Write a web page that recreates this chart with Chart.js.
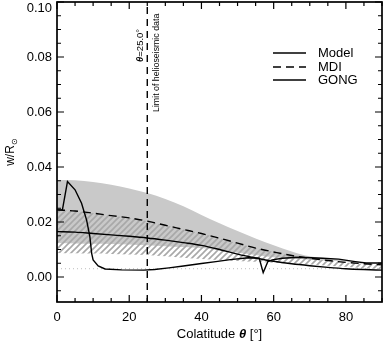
<!DOCTYPE html>
<html>
<head>
<meta charset="utf-8">
<script src="https://cdn.jsdelivr.net/npm/chart.js@4/dist/chart.umd.min.js"></script>
<style>
html,body{margin:0;padding:0;background:#fff;}
canvas{display:block;}
</style>
</head>
<body>
<canvas id="c" width="383" height="341"></canvas>
<script>
// ---------- data ----------
const thetaGrid = [0,5,10,15,20,25,30,35,40,45,50,55,60,65,70,75,80,85,90];
const modelValues = [0.0165,0.0163,0.0158,0.0153,0.0148,0.0142,0.0134,0.0125,0.0115,0.0100,0.0083,0.0069,0.0057,0.0048,0.0041,0.0035,0.0030,0.0027,0.0025];
const mdiValues   = [0.0244,0.0240,0.0232,0.0223,0.0215,0.0203,0.0188,0.0173,0.0158,0.0141,0.0123,0.0105,0.0091,0.0078,0.0068,0.0060,0.0053,0.0048,0.0044];
const gongTheta  = [0,1.5,2.9,5,6.8,8.2,9.1,9.6,10,11.4,13.3,17.9,24,27,31,35,40,44,48,53,56,57.1,58.4,59.6,62.4,67,73.5,78,82.6,85.6,90];
const gongValues = [0.0244,0.0244,0.0347,0.0317,0.0268,0.0207,0.0147,0.0086,0.0062,0.0040,0.0029,0.0026,0.0025,0.0027,0.0033,0.0040,0.0049,0.0056,0.0063,0.0070,0.0068,0.0016,0.0056,0.0062,0.0068,0.0072,0.0068,0.0065,0.0056,0.0051,0.0051];
const grayUpper  = [0.0353,0.0352,0.0345,0.0335,0.0322,0.0305,0.0284,0.0257,0.0225,0.0195,0.0167,0.0140,0.0115,0.0093,0.0075,0.0068,0.0060,0.0053,0.0048];
const grayLower  = [0.0124,0.0122,0.0121,0.0120,0.0118,0.0115,0.0112,0.0109,0.0105,0.0097,0.0088,0.0080,0.0072,0.0067,0.0063,0.0060,0.0056,0.0052,0.0048];
const hatchUpper = [0.0244,0.0240,0.0232,0.0223,0.0215,0.0203,0.0188,0.0173,0.0158,0.0141,0.0123,0.0105,0.0091,0.0078,0.0068,0.0060,0.0053,0.0048,0.0044];
const hatchLower = [0.0087,0.0086,0.0085,0.0084,0.0082,0.0080,0.0075,0.0070,0.0065,0.0061,0.0058,0.0055,0.0052,0.0048,0.0045,0.0041,0.0037,0.0032,0.0028];
const referenceLevel = 0.003;
const limitTheta = 25;
const xTickValues = [0,20,40,60,80];
const xTickLabels = ['0','20','40','60','80'];
const yTickValues = [0,0.02,0.04,0.06,0.08,0.10];
const yTickLabels = ['0.00','0.02','0.04','0.06','0.08','0.10'];
const legendLabels = ['Model','MDI','GONG'];

// ---------- helpers ----------
const pts = (xs, ys) => xs.map((v,i)=>({x:v, y:ys[i]}));

const pc = document.createElement('canvas');
pc.width = 6; pc.height = 6;
const pctx = pc.getContext('2d');
pctx.strokeStyle = '#a8a8a8';
pctx.lineWidth = 1.6;
pctx.beginPath();
pctx.moveTo(-1,7); pctx.lineTo(7,-1);
pctx.moveTo(-4,4); pctx.lineTo(4,-4);
pctx.moveTo(2,10); pctx.lineTo(10,2);
pctx.stroke();
const hatch = pctx.createPattern(pc,'repeat');

const FONT = '"Liberation Sans", Arial, Helvetica, sans-serif';
const TOP_LABEL = yTickLabels[yTickLabels.length-1];

const framePlugin = {
  id:'frame',
  afterDatasetsDraw(chart){
    const {ctx, chartArea:{top,bottom}, scales:{x}} = chart;
    const px = x.getPixelForValue(limitTheta);
    ctx.save();
    ctx.strokeStyle = '#000'; ctx.lineWidth = 1.4;
    ctx.setLineDash([7,5]);
    ctx.beginPath(); ctx.moveTo(px,bottom); ctx.lineTo(px,top); ctx.stroke();
    ctx.restore();
  },
  afterDraw(chart){
    const {ctx, chartArea:{left,right,top,bottom}, scales:{x,y}} = chart;
    ctx.save();
    ctx.strokeStyle = '#000'; ctx.lineWidth = 1.7;
    ctx.strokeRect(left,top,right-left,bottom-top);
    ctx.lineWidth = 1.2;
    ctx.beginPath();
    for (let v=0; v<=90; v+=5){
      const p = x.getPixelForValue(v);
      const L = (v%20===0) ? 7 : 4;
      ctx.moveTo(p,bottom); ctx.lineTo(p,bottom-L);
      ctx.moveTo(p,top); ctx.lineTo(p,top+L);
    }
    for (let k=-1; k<=20; k++){
      const v = k*0.005;
      const p = y.getPixelForValue(v);
      const L = (k%4===0) ? 7 : 4;
      ctx.moveTo(left,p); ctx.lineTo(left+L,p);
      ctx.moveTo(right,p); ctx.lineTo(right-L,p);
    }
    ctx.stroke();

    // top y tick label (kept inside the canvas as in the reference)
    ctx.fillStyle = '#000';
    ctx.font = '13px ' + FONT;
    ctx.textAlign = 'right';
    ctx.textBaseline = 'top';
    ctx.fillText(TOP_LABEL, left-5, top);

    // legend
    ctx.textBaseline = 'middle';
    ctx.textAlign = 'left';
    const ly = [53,67,80];
    legendLabels.forEach((lab,i)=>{
      ctx.lineWidth = 1.4;
      ctx.setLineDash(i===1 ? [8,5] : []);
      ctx.beginPath(); ctx.moveTo(273,ly[i]); ctx.lineTo(306,ly[i]); ctx.stroke();
      ctx.setLineDash([]);
      ctx.fillText(lab, 318, ly[i]);
    });

    // annotations (rotated)
    const lx = x.getPixelForValue(limitTheta);
    ctx.save();
    ctx.translate(lx-4, 62);
    ctx.rotate(-Math.PI/2);
    ctx.textBaseline = 'alphabetic';
    ctx.font = 'bold italic 9.5px ' + FONT;
    ctx.fillText('θ', 0, 0);
    let w = ctx.measureText('θ').width;
    ctx.font = '9.5px ' + FONT;
    ctx.fillText('=25.0°', w, 0);
    ctx.restore();

    ctx.save();
    ctx.translate(lx+12, 112);
    ctx.rotate(-Math.PI/2);
    ctx.textBaseline = 'alphabetic';
    ctx.font = '8.8px ' + FONT;
    ctx.fillText('Limit of helioseismic data', 0, 0);
    ctx.restore();

    // x title
    const cx = (left+right)/2;
    ctx.textBaseline = 'middle';
    const t1 = 'Colatitude ', t3 = ' [°]';
    ctx.font = '13px ' + FONT; const w1 = ctx.measureText(t1).width, w3 = ctx.measureText(t3).width;
    ctx.font = 'bold italic 13px ' + FONT; const w2 = ctx.measureText('θ').width;
    let sx = cx - (w1+w2+w3)/2;
    ctx.font = '13px ' + FONT; ctx.fillText(t1, sx, 334);
    ctx.font = 'bold italic 13px ' + FONT; ctx.fillText('θ', sx+w1, 334);
    ctx.font = '13px ' + FONT; ctx.fillText(t3, sx+w1+w2, 334);

    // y title
    ctx.save();
    ctx.translate(14, (top+bottom)/2);
    ctx.rotate(-Math.PI/2);
    ctx.textBaseline = 'alphabetic';
    ctx.font = '12px ' + FONT;
    const yw = ctx.measureText('w/R').width;
    ctx.font = '8px ' + FONT;
    const sw = ctx.measureText('⊙').width;
    const y0 = -(yw+sw)/2;
    ctx.font = '12px ' + FONT;
    ctx.fillText('w/R', y0, 0);
    ctx.font = '8px ' + FONT;
    ctx.fillText('⊙', y0+yw, 3);
    ctx.restore();

    ctx.restore();
  }
};

const lineBase = {pointRadius:0, borderColor:'#000', borderWidth:1.4, fill:false};

new Chart(document.getElementById('c'), {
  type:'line',
  data:{
    datasets:[
      Object.assign({}, lineBase, {label:'GONG', data:pts(gongTheta,gongValues), tension:0}),
      Object.assign({}, lineBase, {label:'Model', data:pts(thetaGrid,modelValues), cubicInterpolationMode:'monotone'}),
      Object.assign({}, lineBase, {label:'MDI', data:pts(thetaGrid,mdiValues), borderDash:[8,5], cubicInterpolationMode:'monotone'}),
      Object.assign({}, lineBase, {label:'ref', data:[{x:0,y:referenceLevel},{x:90,y:referenceLevel}], borderColor:'#bdbdbd', borderWidth:1, borderDash:[1,3]}),
      {label:'hatchUpper', data:pts(thetaGrid,hatchUpper), pointRadius:0, borderWidth:0, borderColor:'rgba(0,0,0,0)', backgroundColor:hatch, fill:'+1', cubicInterpolationMode:'monotone'},
      {label:'hatchLower', data:pts(thetaGrid,hatchLower), pointRadius:0, borderWidth:0, borderColor:'rgba(0,0,0,0)', fill:false, cubicInterpolationMode:'monotone'},
      {label:'grayUpper', data:pts(thetaGrid,grayUpper), pointRadius:0, borderWidth:0, borderColor:'rgba(0,0,0,0)', backgroundColor:'#c9c9c9', fill:'+1', cubicInterpolationMode:'monotone'},
      {label:'grayLower', data:pts(thetaGrid,grayLower), pointRadius:0, borderWidth:0, borderColor:'rgba(0,0,0,0)', fill:false, cubicInterpolationMode:'monotone'}
    ]
  },
  options:{
    responsive:false,
    animation:false,
    devicePixelRatio:1,
    layout:{padding:{left:0,right:1,top:2,bottom:0}},
    plugins:{legend:{display:false}, tooltip:{enabled:false}, filler:{drawTime:'beforeDatasetsDraw'}},
    scales:{
      x:{
        type:'linear', min:0, max:90,
        afterBuildTicks:s=>{ s.ticks = xTickValues.map(v=>({value:v})); },
        afterFit:s=>{ s.height = 39; s.paddingLeft=0; s.paddingRight=0; s.paddingTop=0; s.paddingBottom=0; },
        ticks:{callback:(v)=>xTickLabels[xTickValues.indexOf(v)], color:'#000', font:{family:FONT,size:13}, padding:8, maxRotation:0, autoSkip:false},
        grid:{display:false, drawTicks:false},
        border:{display:false}
      },
      y:{
        type:'linear', min:-0.0091, max:0.1,
        afterBuildTicks:s=>{ s.ticks = yTickValues.map(v=>({value:v})); },
        afterFit:s=>{ s.width = 57; s.paddingLeft=0; s.paddingRight=0; s.paddingTop=0; s.paddingBottom=0; },
        ticks:{callback:(v)=>{const i=yTickValues.findIndex(t=>Math.abs(t-v)<1e-9); return i===yTickValues.length-1 ? '' : yTickLabels[i];}, color:'#000', font:{family:FONT,size:13}, padding:5, autoSkip:false},
        grid:{display:false, drawTicks:false},
        border:{display:false}
      }
    }
  },
  plugins:[framePlugin]
});
</script>
</body>
</html>
